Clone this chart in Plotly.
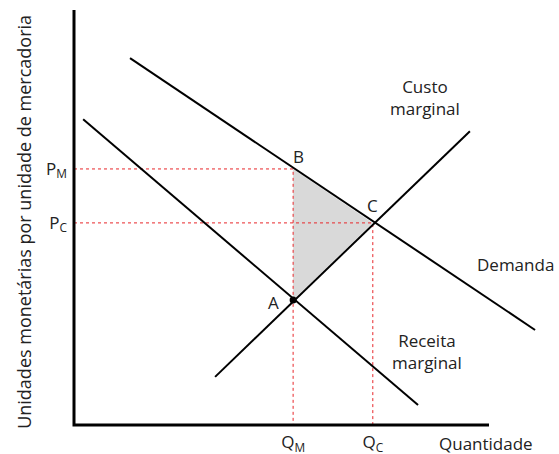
import plotly.graph_objects as go

# curves (quantity, price)
demand_q = [1.35, 11.11]
demand_p = [8.84, 2.29]
mr_q = [0.22, 8.29]
mr_p = [7.37, 0.48]
mc_q = [3.40, 9.54]
mc_p = [1.16, 7.08]

q_m, q_c = 5.28, 7.20
p_m, p_c, p_a = 6.17, 4.87, 3.01
axis_len = 10

font = "Open Sans"
px_unit = 41.5  # pixels per unit, same on both axes

W, H, L, B = 559, 454, 68, 24
ox, oy = 74, 425  # origin in figure pixels
xr = [(L - ox) / px_unit, (W - ox) / px_unit]
yr = [(oy - (H - B)) / px_unit, oy / px_unit]

def px(v):
    return (v - xr[0]) / (xr[1] - xr[0])

def py(v):
    return (v - yr[0]) / (yr[1] - yr[0])

fig = go.Figure()

# deadweight triangle A-B-C
fig.add_trace(go.Scatter(x=[q_m, q_m, q_c, q_m], y=[p_a, p_m, p_c, p_a], fill="toself",
                         fillcolor="#d9d9d9", line=dict(width=0), mode="lines", hoverinfo="skip"))

# red guides
red = dict(color="#e8262a", width=1, dash="dot")
fig.add_trace(go.Scatter(x=[0, q_m, q_m], y=[p_m, p_m, 0], mode="lines", line=red))
fig.add_trace(go.Scatter(x=[0, q_c, q_c], y=[p_c, p_c, 0], mode="lines", line=red))

blk = dict(color="black", width=2)
fig.add_trace(go.Scatter(x=demand_q, y=demand_p, mode="lines", line=blk))
fig.add_trace(go.Scatter(x=mr_q, y=mr_p, mode="lines", line=blk))
fig.add_trace(go.Scatter(x=mc_q, y=mc_p, mode="lines", line=blk))
fig.add_trace(go.Scatter(x=[q_m], y=[p_a], mode="markers", marker=dict(color="black", size=7)))

# axes drawn by hand so they stop at the right length
ax = dict(color="black", width=3)
fig.add_trace(go.Scatter(x=[0, 0, axis_len], y=[axis_len, 0, 0], mode="lines", line=ax))

def lab(text, x, y, xa="center", size=17, angle=0):
    fig.add_annotation(x=px(x), y=py(y), xref="paper", yref="paper", text=text, showarrow=False,
                       xanchor=xa, yanchor="middle", textangle=angle,
                       font=dict(family=font, size=size, color="#222"))

lab("Custo<br>marginal", 8.46, 7.90)
lab("Demanda", 9.66, 3.86, xa="left")
lab("Receita<br>marginal", 8.51, 1.76)
lab("B", 5.40, 6.46)
lab("C", 7.20, 5.30)
lab("A", 4.80, 2.96)
lab("Quantidade", 8.75, -0.45, xa="left")
lab("Unidades monetárias por unidade de mercadoria", -1.21, 4.89, size=18, angle=-90)

fig.update_layout(
    width=W, height=H, margin=dict(l=L, r=0, t=0, b=B),
    plot_bgcolor="white", paper_bgcolor="white", showlegend=False,
    xaxis=dict(range=xr, showgrid=False, zeroline=False,
               tickvals=[q_m, q_c], ticktext=["Q<sub>M</sub>", "Q<sub>C</sub>"], ticks="",
               tickfont=dict(family=font, size=17, color="#222")),
    yaxis=dict(range=yr, showgrid=False, zeroline=False,
               tickvals=[p_m, p_c], ticktext=["P<sub>M</sub>", "P<sub>C</sub>"], ticks="",
               tickfont=dict(family=font, size=17, color="#222")),
)
# drop the browser's default body margin so the figure fills the window
fig.write_html("out.html", config={"displayModeBar": False},
               post_script="document.body.style.margin='0';")
